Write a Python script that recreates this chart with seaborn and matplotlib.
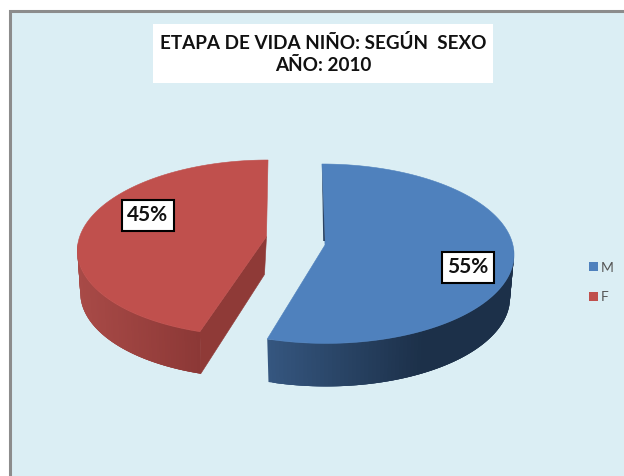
import numpy as np
import matplotlib
matplotlib.use("Agg")
import matplotlib.pyplot as plt
from matplotlib.patches import Polygon, Rectangle, Patch
from matplotlib.colors import to_rgb
import seaborn as sns

# data
categories = ["M", "F"]
shares = [55, 45]
share_labels = ["55%", "45%"]
title_text = "ETAPA DE VIDA NIÑO: SEGÚN  SEXO\nAÑO: 2010"
top_colors = sns.color_palette(["#4F81BD", "#C0504D"])
wall_light = ["#35567F", "#A84A47"]
wall_dark = ["#1C3049", "#8A3735"]
cut_colors = ["#1C3049", "#8F3A37"]

sns.set_theme(style="white")
plt.rcParams["font.family"] = ["Lato", "DejaVu Sans"]

fig = plt.figure(figsize=(6.24, 4.76), dpi=100, facecolor="white")
ax = fig.add_axes([0, 0, 1, 1])

# Angles come from the library's pie layout
wedges, _ = ax.pie(shares, startangle=90, counterclock=False)
angles = [(w.theta1, w.theta2) for w in wedges]
for w in wedges:
    w.remove()
ax.set_aspect("auto")
ax.set_xlim(0, 624)
ax.set_ylim(476, 0)
ax.axis("off")

# Chart area
ax.add_patch(Rectangle((9.5, 10.5), 700, 600, fc="#DBEEF4", ec="#8C8C8C", lw=2.2, zorder=0))

# Projection parameters for each exploded slice
geom = [
    dict(cx=324, cy=253.7, a=190, b=89.7, s=0.023, apex=(325, 245), depth=43, shrink=4),
    dict(cx=262.4, cy=248, a=185, b=88, s=-0.064, apex=(266.5, 236.5), depth=42, shrink=3),
]


def rim(g, deg, lower=False):
    t = np.radians(deg)
    a = g["a"] - (g["shrink"] if lower else 0)
    dy = -g["b"] * np.sin(t)
    x = g["cx"] + a * np.cos(t) + g["s"] * dy
    y = g["cy"] + dy + (g["depth"] if lower else 0)
    return np.array([x, y]).T


for i, (g, (t1, t2)) in enumerate(zip(geom, angles)):
    light, dark = np.array(to_rgb(wall_light[i])), np.array(to_rgb(wall_dark[i]))
    th = np.linspace(min(t1, t2), max(t1, t2), 160)
    pts = rim(g, th)
    # curved outer wall: only the front-facing part is visible
    idx = np.where(np.sin(np.radians(th)) < 0.06)[0]
    xs = pts[idx, 0]
    order = idx[:-1] if i == 0 else idx[:-1][::-1]
    for j in order:
        seg = th[j:min(j + 4, idx[-1] + 1)]
        q = np.vstack([rim(g, seg), rim(g, seg, True)[::-1]])
        f = (rim(g, th[j])[0] - xs.min()) / (xs.max() - xs.min())
        if i == 0:
            f = min(1.0, f * 1.6)
        col = tuple(light * (1 - f) + dark * f)
        ax.add_patch(Polygon(q, fc=col, ec="none", zorder=2))
    apex = np.array(g["apex"])
    ends = sorted([t1, t2], key=lambda d: rim(g, d)[1])
    back_end, front_end = rim(g, ends[0]), rim(g, ends[1])
    if i == 1:
        # cut face from apex down to the front corner
        low_end = rim(g, ends[1], True)
        ax.add_patch(Polygon([apex, front_end, low_end, apex + [-2, g["depth"] - 4]],
                             fc=cut_colors[i], ec=cut_colors[i], lw=0.4, zorder=3))
    # top face
    face = np.vstack([apex, pts])
    ax.add_patch(Polygon(face, fc=top_colors[i], ec=top_colors[i], lw=0.4, zorder=4))
    if i == 0:
        # thin rear wall sliver
        ax.add_patch(Polygon([back_end, apex + [0, -4], apex + [-1.8, -4]],
                             fc="#2C4464", ec="none", zorder=5))

# Title
ax.add_patch(Rectangle((153, 24), 340, 59, fc="white", ec="none", zorder=6))
ax.text(323, 54, title_text, ha="center", va="center", fontsize=13.6, fontweight="bold",
        color="#111111", linespacing=1.4, zorder=7)

# Percentage labels
label_pos = [(467.5, 267), (147.5, 215)]
for (x, y), txt in zip(label_pos, share_labels):
    ax.add_patch(Rectangle((x - 26, y - 15.5), 52, 31, fc="white", ec="black", lw=1.5, zorder=8))
    ax.text(x, y, txt, ha="center", va="center", fontsize=15, fontweight="bold",
            color="#111111", zorder=9)

# Legend
handles = [Patch(fc=c, ec="none") for c in top_colors]
ax.legend(handles, categories, loc="center left", bbox_to_anchor=(589 / 624, 1 - 282.5 / 476),
          bbox_transform=ax.transAxes, frameon=False, fontsize=10, labelcolor="#555555",
          handlelength=0.62, handleheight=0.62, handletextpad=0.25, labelspacing=1.25,
          borderpad=0, borderaxespad=0)

fig.savefig("out.png", dpi=100, facecolor="white")
